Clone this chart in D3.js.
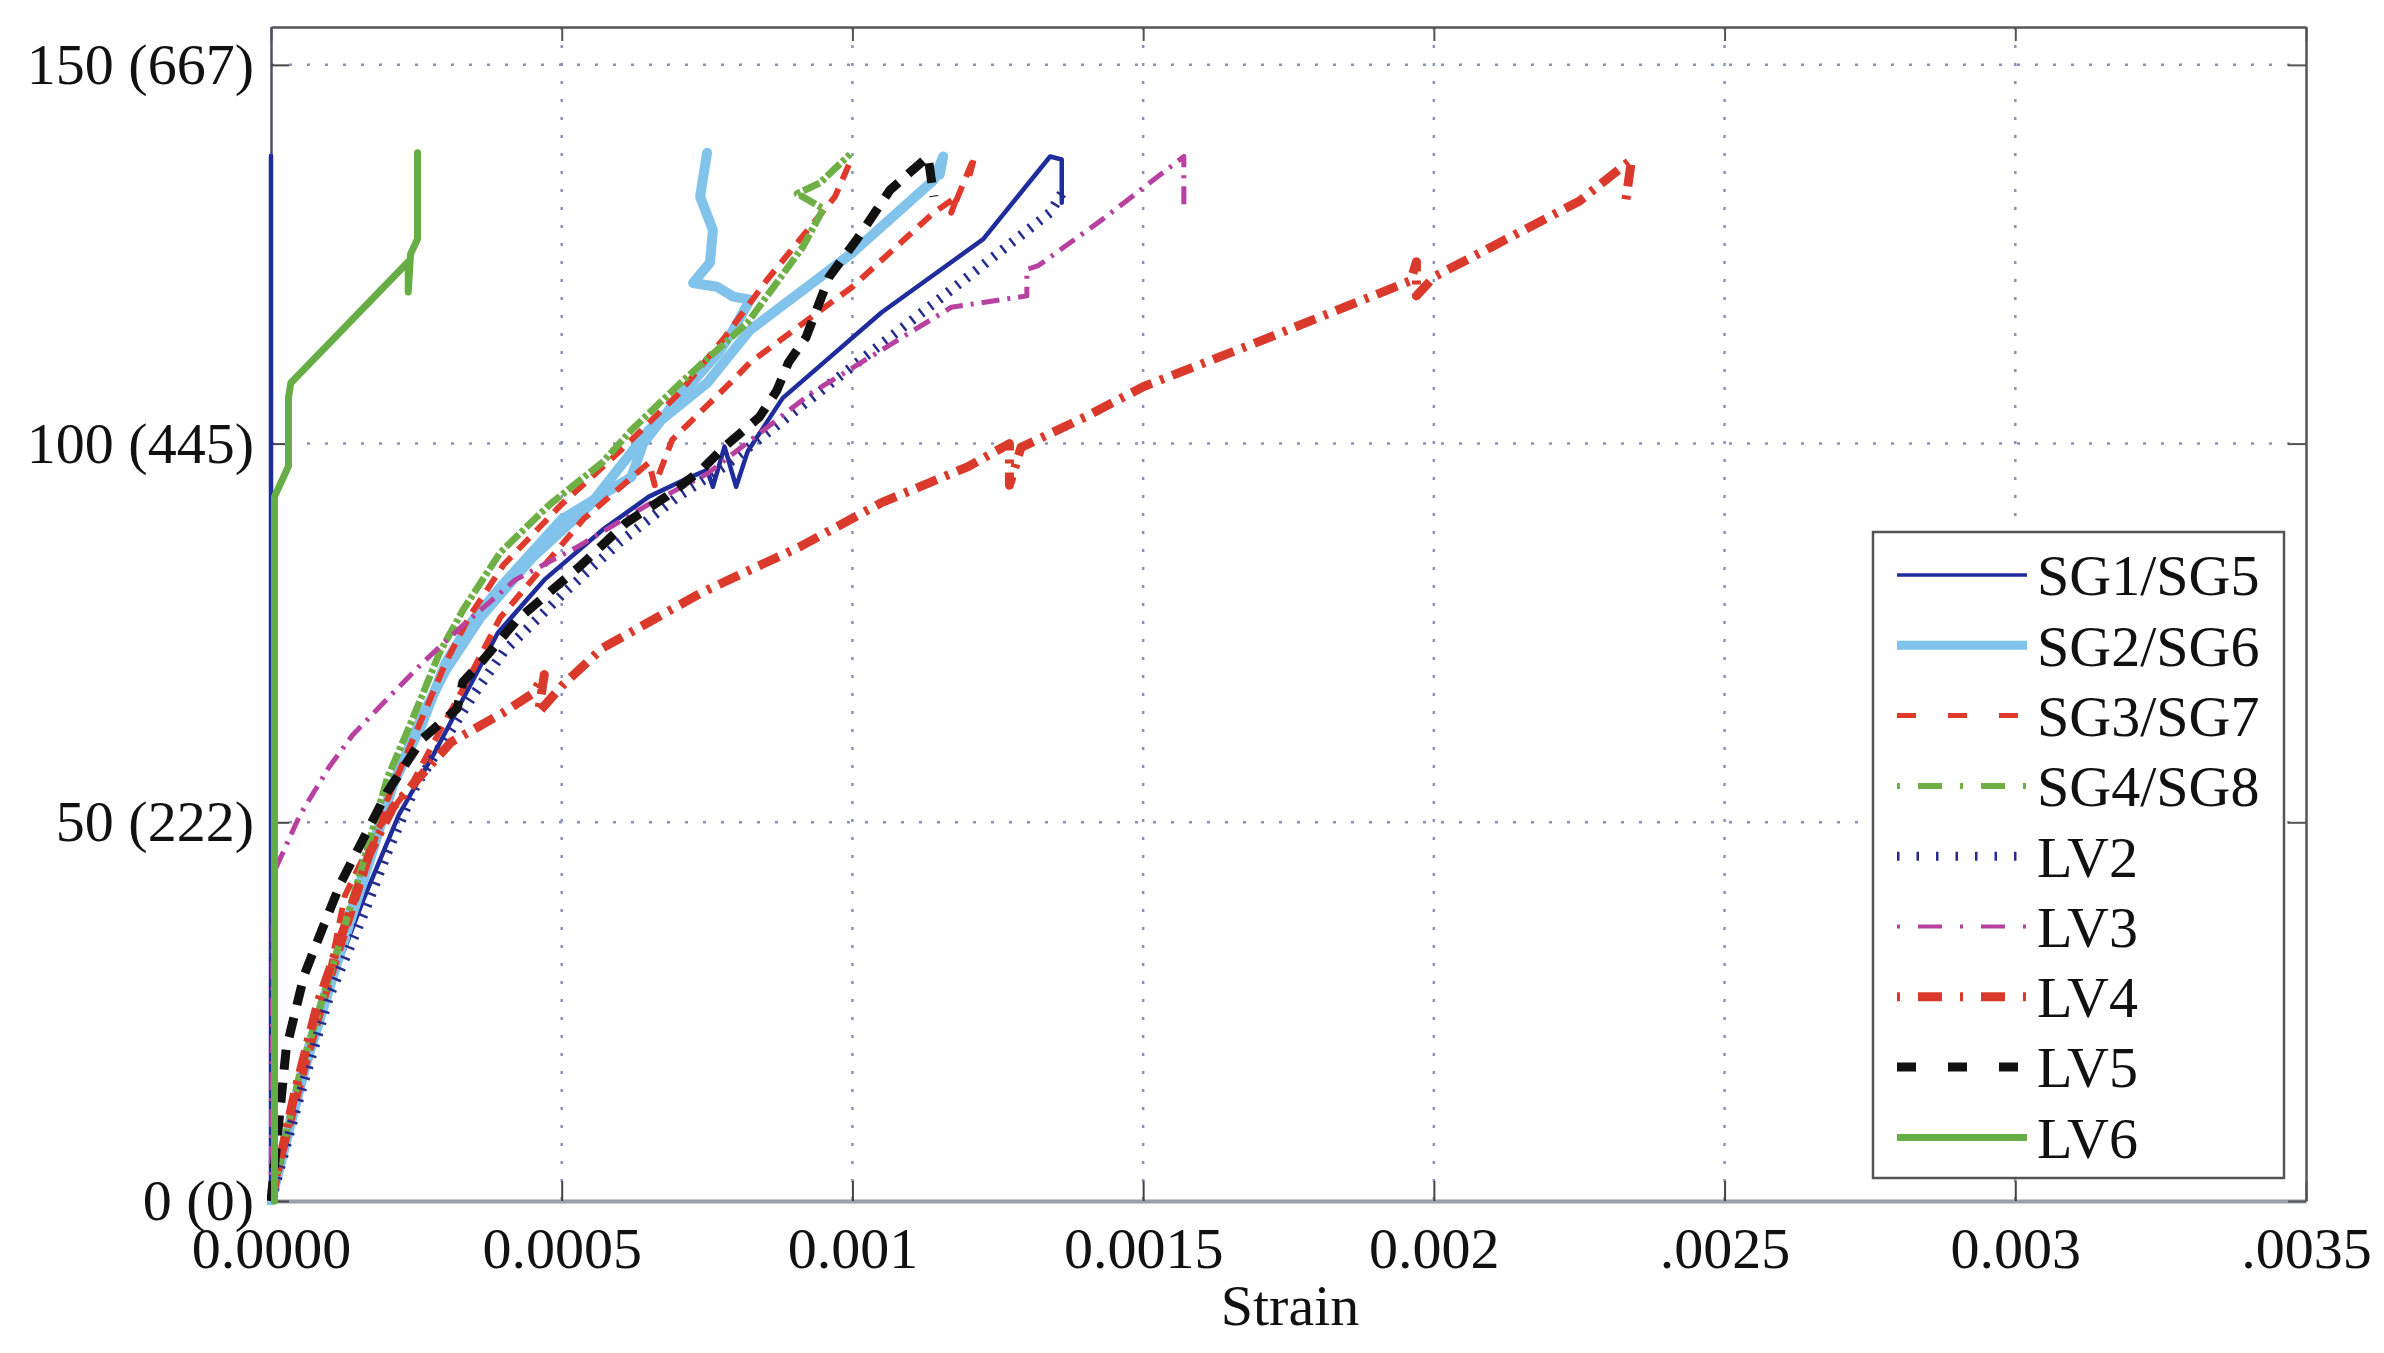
<!DOCTYPE html>
<html>
<head>
<meta charset="utf-8">
<script src="https://cdn.jsdelivr.net/npm/d3@7"></script>
<style>
  html, body { margin: 0; padding: 0; background: #ffffff; }
  svg { display: block; }
  text { font-family: "Liberation Serif", "Times New Roman", serif; fill: #111; }
</style>
</head>
<body>
<svg id="chart" width="2384" height="1353"></svg>
<script>
// ---------------- DATA ----------------
const seriesNames = ["SG1/SG5", "SG2/SG6", "SG3/SG7", "SG4/SG8", "LV2", "LV3", "LV4", "LV5", "LV6"];

const xTickValues = [0, 0.0005, 0.001, 0.0015, 0.002, 0.0025, 0.003, 0.0035];
const xTickLabels = ["0.0000", "0.0005", "0.001", "0.0015", "0.002", ".0025", "0.003", ".0035"];
const yTickValues = [0, 50, 100, 150];
const yTickLabels = ["0 (0)", "50 (222)", "100 (445)", "150 (667)"];

// [strain, load]
const sg1 = [[0,0],[0.00005,15],[0.0001,28],[0.00016,40],[0.00022,51],[0.00028,59],[0.00032,64.8],[0.00039,75],[0.00047,82],[0.00057,88.6],[0.00065,93],[0.00071,95.2],[0.00075,96.5],[0.00076,94.3],[0.00078,99.6],[0.0008,94.3],[0.00082,99],[0.00088,106],[0.00105,117.3],[0.001225,127],[0.00134,137.9],[0.00136,137.5],[0.00136,131.8]];
const sg5 = [[0,0],[0,138]];
const sg2 = [[0,0],[0.00006,18],[0.00012,33],[0.00017,45],[0.00021,55],[0.00026,63],[0.0003,71],[0.00034,76],[0.000394,81],[0.0005,90],[0.00062,95.6],[0.00064,100],[0.0007,106],[0.00077,112],[0.000795,115],[0.000824,119],[0.000795,119.4],[0.000767,120.7],[0.000726,121.2],[0.000755,123.9],[0.00076,128.2],[0.000738,132.6],[0.00075,138.4]];
const sg6 = [[0,0],[0.00006,19],[0.00012,34],[0.00017,46],[0.00021,55],[0.00026,64],[0.0003,70],[0.00036,77],[0.00045,85],[0.00055,92],[0.00065,101.8],[0.00075,108],[0.000824,115],[0.001,125.2],[0.00114,134.8],[0.001156,137.9],[0.00115,135.5]];
const sg3 = [[0,0],[0.00005,16],[0.00011,31],[0.00016,43],[0.0002,53],[0.00025,62],[0.0003,71],[0.00034,77],[0.0004,84],[0.0005,92],[0.0006,99],[0.0007,106.5],[0.00078,114],[0.000853,121.6],[0.00097,132.6],[0.001,137.9]];
const sg7 = [[0,0],[0.00005,15],[0.00009,26],[0.000127,40.3],[0.00018,48.7],[0.000244,55.3],[0.00029,62],[0.00034,69],[0.000394,77],[0.000537,90],[0.00065,97.5],[0.00066,94.5],[0.00069,100.5],[0.000795,108.4],[0.000824,110.7],[0.001,120.7],[0.00114,130.5],[0.00118,132.6],[0.00117,130.5],[0.00121,137.9],[0.0012,135]];
const sg4 = [[0,0],[0.00005,17],[0.00011,32],[0.000156,44],[0.0002,55.8],[0.00024,63],[0.00029,72.4],[0.00033,78],[0.000394,85.6],[0.00048,92],[0.00057,97.5],[0.00062,101.8],[0.00071,108.4],[0.00082,116],[0.000915,126],[0.00095,131],[0.000905,133],[0.000944,134.4],[0.000996,138.2]];
const lv2 = [[0,0],[0.00005,14],[0.0001,27],[0.00016,38],[0.0002,46],[0.00025,55],[0.0003,61],[0.00035,67],[0.0004,72.5],[0.0005,80],[0.0006,87],[0.0007,93],[0.00078,97],[0.00083,100],[0.00097,108.4],[0.00117,120.3],[0.00134,130.5],[0.00136,133]];
const lv3 = [[0,0],[0.000004,38],[0.0000086,44],[0.00005,51],[0.0001,57.3],[0.00014,61.5],[0.0002,66.3],[0.00026,71],[0.00033,76],[0.00042,82],[0.00053,86.5],[0.00065,92],[0.00075,96],[0.00093,106.7],[0.00117,118],[0.0013,119.5],[0.0013,123],[0.00132,123.5],[0.00143,129.6],[0.00157,137.9],[0.00157,131]];
const lv4 = [[0,0],[0.00004,14],[0.00008,26],[0.00013,37],[0.00017,46],[0.00021,52],[0.00025,55.5],[0.00031,60.6],[0.0004,64.5],[0.00045,67],[0.00047,69.5],[0.00046,64.5],[0.0005,68],[0.00057,73],[0.00074,80.3],[0.00091,86.4],[0.00105,92.2],[0.0012,97],[0.00127,100],[0.00127,94.5],[0.00129,99.5],[0.0014,103.5],[0.0015,107.5],[0.0017,113.5],[0.00196,121.5],[0.00197,124],[0.00197,119.5],[0.002,122],[0.0021,126],[0.00225,132],[0.00234,137.5],[0.00233,132]];
const lv5 = [[0,0],[0.000026,20],[0.000057,29.8],[0.000086,35.5],[0.00012,42],[0.00016,48],[0.0002,54],[0.00026,61],[0.00032,65],[0.00033,68.5],[0.00036,71],[0.000423,76.7],[0.00047,79.8],[0.00053,83.7],[0.00061,89.5],[0.00068,93],[0.00074,96.5],[0.00078,99.6],[0.00084,103.5],[0.00087,107],[0.00089,110.7],[0.00092,114],[0.00096,122],[0.001008,127],[0.001065,133.5],[0.00113,137.9],[0.00114,132.6]];
const lv6 = [[0.000006,0],[0.000006,93],[0.00003,97],[0.00003,106],[0.000034,108],[0.000236,124],[0.000236,120],[0.00024,125],[0.000252,127],[0.000252,138.4]];

const seriesTraces = [[sg5, sg1], [sg2, sg6], [sg3, sg7], [sg4], [lv2], [lv3], [lv4], [lv5], [lv6]];

// ---------------- STYLES ----------------
const styles = [
  { color: "#1f2c9c", width: 4.5, dash: null,            legendWidth: 3.5, legendDash: null },
  { color: "#82c3ec", width: 10,  dash: null,            legendWidth: 9,   legendDash: null },
  { color: "#e03a2c", width: 6,   dash: "16,10",         legendWidth: 5,   legendDash: "19,32" },
  { color: "#6fb046", width: 7,   dash: "18,3,4,3",      legendWidth: 6,   legendDash: "3,18,24,18" },
  { color: "#262c8e", width: 10,  dash: "2.5,9",         legendWidth: 9,   legendDash: "2.5,17" },
  { color: "#b8409f", width: 5,   dash: "18,8,3,8",      legendWidth: 4,   legendDash: "3,18,24,18" },
  { color: "#d93a2b", width: 9,   dash: "22,9,4,9",      legendWidth: 9,   legendDash: "3,18,24,18" },
  { color: "#111111", width: 9,   dash: "20,13",         legendWidth: 9,   legendDash: "19,32" },
  { color: "#67ad45", width: 7,   dash: null,            legendWidth: 7,   legendDash: null }
];

// ---------------- CHART ----------------
const svg = d3.select("#chart");
const L = 271, R = 2306, T = 27, B = 1201;
const x = d3.scaleLinear().domain([0, 0.0035]).range([L, R]);
const y = d3.scaleLinear().domain([0, 155]).range([B, T]);
const FS = 58;

svg.append("rect").attr("x", 0).attr("y", 0).attr("width", 2384).attr("height", 1353).attr("fill", "#ffffff");

// grid
const grid = svg.append("g");
grid.selectAll("line.vg").data(xTickValues.filter(d => d > 0 && d < 0.0035)).enter()
  .append("line").attr("x1", d => x(d)).attr("x2", d => x(d)).attr("y1", T).attr("y2", B)
  .attr("stroke", "#8a92b8").attr("stroke-width", 2.5).attr("stroke-dasharray", "3,15");
grid.selectAll("line.hg").data(yTickValues.filter(d => d > 0)).enter()
  .append("line").attr("x1", L).attr("x2", R).attr("y1", d => y(d)).attr("y2", d => y(d))
  .attr("stroke", "#8a92b8").attr("stroke-width", 2.5).attr("stroke-dasharray", "3,15");

// axes
const axB = svg.append("g").attr("transform", `translate(0,${B})`)
  .call(d3.axisBottom(x).tickValues(xTickValues).tickFormat((d, i) => xTickLabels[i])
    .tickSizeInner(-20).tickSizeOuter(0).tickPadding(26));
axB.select(".domain").attr("stroke", "#9a9ea8").attr("stroke-width", 4);
axB.selectAll(".tick line").attr("stroke", "#444").attr("stroke-width", 2);
axB.selectAll(".tick text").attr("font-size", FS).attr("font-family", "Liberation Serif, serif").attr("fill", "#111");

const axT = svg.append("g").attr("transform", `translate(0,${T})`)
  .call(d3.axisTop(x).tickValues(xTickValues).tickFormat("").tickSizeInner(-14).tickSizeOuter(0));
axT.select(".domain").attr("stroke", "#555").attr("stroke-width", 2.5);
axT.selectAll(".tick line").attr("stroke", "#555").attr("stroke-width", 2);

const axL = svg.append("g").attr("transform", `translate(${L},0)`)
  .call(d3.axisLeft(y).tickValues(yTickValues).tickFormat((d, i) => yTickLabels[i])
    .tickSizeInner(-18).tickSizeOuter(0).tickPadding(17));
axL.select(".domain").attr("stroke", "#4a5075").attr("stroke-width", 2.5);
axL.selectAll(".tick line").attr("stroke", "#444").attr("stroke-width", 2);
axL.selectAll(".tick text").attr("font-size", FS).attr("font-family", "Liberation Serif, serif").attr("fill", "#111");

const axR = svg.append("g").attr("transform", `translate(${R},0)`)
  .call(d3.axisRight(y).tickValues(yTickValues).tickFormat("").tickSizeInner(-18).tickSizeOuter(0));
axR.select(".domain").attr("stroke", "#555").attr("stroke-width", 2.5);
axR.selectAll(".tick line").attr("stroke", "#555").attr("stroke-width", 2);

// clip
svg.append("clipPath").attr("id", "plotclip").append("rect")
  .attr("x", L - 4).attr("y", T).attr("width", R - L + 4).attr("height", B - T + 4);

const line = d3.line().x(d => x(d[0])).y(d => y(d[1]));
const plot = svg.append("g").attr("clip-path", "url(#plotclip)");
seriesTraces.forEach((traces, i) => {
  const s = styles[i];
  traces.forEach(tr => {
    plot.append("path").datum(tr).attr("d", line)
      .attr("fill", "none").attr("stroke", s.color).attr("stroke-width", s.width)
      .attr("stroke-linejoin", "round").attr("stroke-linecap", s.dash ? "butt" : "round")
      .attr("stroke-dasharray", s.dash);
  });
});

// x label
svg.append("text").attr("x", 1290).attr("y", 1325).attr("text-anchor", "middle")
  .attr("font-size", FS).text("Strain");

// legend
const lg = svg.append("g");
lg.append("rect").attr("x", 1873).attr("y", 532).attr("width", 411).attr("height", 646)
  .attr("fill", "#ffffff").attr("stroke", "#555").attr("stroke-width", 2.5);
const rowY = i => 575 + i * 70.3;
seriesNames.forEach((name, i) => {
  const s = styles[i];
  lg.append("line").attr("x1", 1897).attr("x2", 2027).attr("y1", rowY(i)).attr("y2", rowY(i))
    .attr("stroke", s.color).attr("stroke-width", s.legendWidth)
    .attr("stroke-dasharray", s.legendDash);
  lg.append("text").attr("x", 2037).attr("y", rowY(i)).attr("dy", "0.35em")
    .attr("font-size", FS).text(name);
});
</script>
</body>
</html>
